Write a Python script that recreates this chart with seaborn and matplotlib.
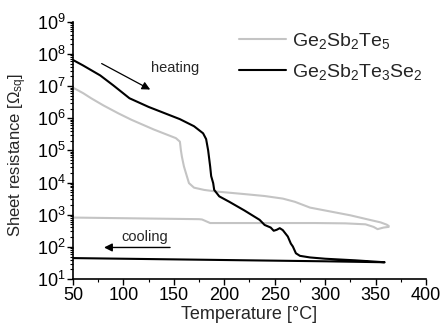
import numpy as np
import pandas as pd
import matplotlib
matplotlib.use("Agg")
import matplotlib.pyplot as plt
import seaborn as sns

sns.set_style("ticks")
plt.rcParams["font.family"] = ["Liberation Sans", "DejaVu Sans"]
plt.rcParams["mathtext.fontset"] = "custom"
plt.rcParams["mathtext.rm"] = "Liberation Sans"
plt.rcParams["mathtext.it"] = "Liberation Sans:italic"
plt.rcParams["mathtext.default"] = "regular"

# Ge2Sb2Te5: heating then cooling (temperature in °C, log10 of sheet resistance)
gst_heat_t = [50, 60, 68, 80, 95, 108, 130, 152, 156, 157, 158, 160, 162, 165, 170, 180,
              192, 220, 240, 258, 270, 285, 305, 325, 344, 355, 361, 363]
gst_heat_logr = [6.95, 6.78, 6.62, 6.40, 6.15, 5.95, 5.65, 5.38, 5.27, 5.00, 4.80, 4.50,
                 4.29, 3.98, 3.84, 3.77, 3.72, 3.64, 3.58, 3.50, 3.40, 3.22, 3.10, 2.98,
                 2.84, 2.76, 2.69, 2.65]
gst_cool_t = [363, 358, 352, 348, 340, 320, 290, 250, 200, 186, 178, 175, 150, 100, 50]
gst_cool_logr = [2.62, 2.60, 2.55, 2.62, 2.70, 2.73, 2.74, 2.74, 2.74, 2.74, 2.85, 2.86,
                 2.87, 2.89, 2.91]

# Ge2Sb2Te3Se2: heating then cooling
gstse_heat_t = [50, 60, 77, 90, 106, 125, 156, 170, 179, 182, 184, 186, 187, 189, 190, 195,
                205, 220, 235, 240, 246, 249, 252, 255, 258, 263, 266, 268, 271, 275, 285,
                300, 330, 359]
gstse_heat_logr = [7.81, 7.64, 7.33, 7.02, 6.62, 6.35, 5.97, 5.75, 5.53, 5.35, 5.00, 4.50,
                   4.20, 3.98, 3.77, 3.57, 3.40, 3.13, 2.84, 2.68, 2.60, 2.50, 2.53, 2.58,
                   2.52, 2.32, 2.10, 2.01, 1.80, 1.72, 1.67, 1.63, 1.58, 1.52]
gstse_cool_t = [359, 300, 200, 100, 50]
gstse_cool_logr = [1.52, 1.55, 1.59, 1.63, 1.65]

labels = [r"$Ge_2Sb_2Te_5$", r"$Ge_2Sb_2Te_3Se_2$"]
colors = ["#c4c4c4", "#000000"]

gst = pd.DataFrame({
    "T": gst_heat_t + gst_cool_t,
    "R": 10.0 ** np.array(gst_heat_logr + gst_cool_logr),
})
gstse = pd.DataFrame({
    "T": gstse_heat_t + gstse_cool_t,
    "R": 10.0 ** np.array(gstse_heat_logr + gstse_cool_logr),
})

fig = plt.figure(figsize=(4.41, 3.29), dpi=100)
ax = fig.add_axes([0.1655, 0.152, 0.8005, 0.782])

sns.lineplot(data=gst, x="T", y="R", sort=False, estimator=None, color=colors[0],
             lw=1.5, label=labels[0], ax=ax)
sns.lineplot(data=gstse, x="T", y="R", sort=False, estimator=None, color=colors[1],
             lw=1.5, label=labels[1], ax=ax)

ax.set_yscale("log")
ax.set_xlim(50, 400)
ax.set_ylim(1e1, 1e9)
ax.set_xticks(np.arange(50, 401, 50))
ax.xaxis.set_minor_locator(matplotlib.ticker.MultipleLocator(25))
ax.yaxis.set_major_locator(matplotlib.ticker.LogLocator(base=10, numticks=20))
ax.yaxis.set_minor_locator(matplotlib.ticker.LogLocator(base=10, subs=np.arange(2, 10), numticks=20))
ax.yaxis.set_minor_formatter(matplotlib.ticker.NullFormatter())
ax.tick_params(axis="both", which="major", direction="out", length=4, width=1,
               labelsize=13, color="black", labelcolor="black")
ax.tick_params(axis="x", which="major", pad=2)
ax.tick_params(axis="y", which="major", pad=1)
ax.tick_params(axis="both", which="minor", direction="out", length=2, width=0.8,
               color="black")
for side in ["left", "bottom"]:
    ax.spines[side].set_linewidth(1.2)
    ax.spines[side].set_color("black")
sns.despine(ax=ax)

ax.set_xlabel("Temperature [°C]", fontsize=13, labelpad=1)
ax.set_ylabel(r"Sheet resistance [$\Omega_{sq}$]", fontsize=12)
ax.yaxis.set_label_coords(-0.125, 0.482)

ax.legend(loc="upper left", bbox_to_anchor=(0.52, 0.935), bbox_transform=fig.transFigure,
          frameon=False, fontsize=14, handlelength=2.4, handletextpad=0.3,
          labelspacing=0.55, borderpad=0)

ax.annotate("", xy=(129, 10 ** 6.85), xytext=(76, 10 ** 7.74),
            arrowprops=dict(arrowstyle="-|>", color="black", lw=0.9, mutation_scale=12))
ax.text(151, 10 ** 7.55, "heating", fontsize=10.5, ha="center", va="center")
ax.annotate("", xy=(78, 10 ** 1.98), xytext=(149, 10 ** 1.98),
            arrowprops=dict(arrowstyle="-|>", color="black", lw=1.0, mutation_scale=12))
ax.text(121, 10 ** 2.3, "cooling", fontsize=10.5, ha="center", va="center")

fig.savefig("out.png", dpi=100)
